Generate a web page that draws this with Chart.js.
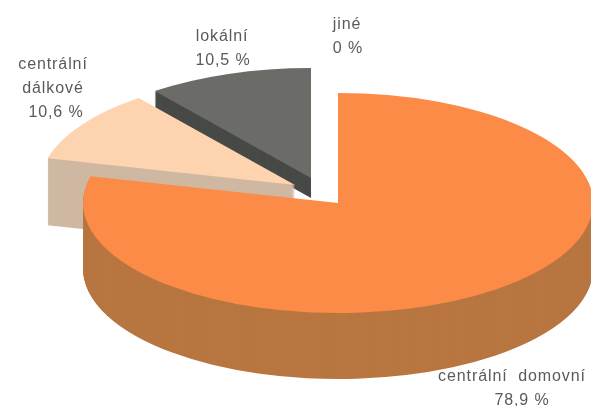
<!DOCTYPE html>
<html>
<head>
<meta charset="utf-8">
<style>
html,body{margin:0;padding:0;background:#fff;overflow:hidden}
#wrap{width:591px;height:406px}
canvas{display:block;filter:blur(0.55px)}
</style>
<script src="https://cdn.jsdelivr.net/npm/chart.js@4"></script>
</head>
<body>
<div id="wrap"><canvas id="c" width="591" height="406"></canvas></div>
<script>
const categories = ["centrální domovní", "centrální dálkové", "lokální", "jiné"];
const shares = [78.9, 10.6, 10.5, 0];
const shareLabels = ["78,9 %", "10,6 %", "10,5 %", "0 %"];
const topColors = ["#fb8b47", "#fdd3b0", "#6b6b68", "#ffffff"];
const sideColors = ["#b87640", "#cfb8a2", "#474a46", "#ffffff"];

// Projection of the tilted pie: where each slice's apex lands, and how thick it is.
const view = [
  {x: 338, y: 203, depth: 66},
  {x: 295, y: 185, depth: 67},
  {x: 311, y: 178, depth: 20},
  {x: 338, y: 203, depth: 0}
];
const radiusX = 255, radiusY = 110;
const drawOrder = [2, 1, 0];

// Text placement: one entry per text line.
const textLines = [
  {t: "centrální", x: 53, y: 69},
  {t: "dálkové", x: 53, y: 93},
  {t: shareLabels[1], x: 56, y: 117},
  {t: categories[2], x: 222, y: 41},
  {t: shareLabels[2], x: 223, y: 65},
  {t: categories[3], x: 347, y: 29},
  {t: shareLabels[3], x: 348, y: 53},
  {t: "centrální  domovní", x: 512, y: 381},
  {t: shareLabels[0], x: 522, y: 405}
];

const tiltedPie = {
  id: "tiltedPie",
  beforeDatasetDraw(chart, args) {
    const ctx = chart.ctx;
    const arcs = args.meta.data;
    const paint = (arc, v, layer, color) => {
      const R = arc.outerRadius;
      const saved = arc.options;
      arc.options = Object.assign({}, saved, {backgroundColor: color});
      ctx.save();
      ctx.translate(v.x, v.y + layer);
      ctx.scale(radiusX / R, radiusY / R);
      ctx.translate(-arc.x, -arc.y);
      arc.draw(ctx);
      ctx.restore();
      arc.options = saved;
    };
    drawOrder.forEach(i => {
      for (let d = view[i].depth; d >= 1; d--) paint(arcs[i], view[i], d, sideColors[i]);
      paint(arcs[i], view[i], 0, topColors[i]);
    });
    return false;
  },
  afterDraw(chart) {
    const ctx = chart.ctx;
    ctx.save();
    ctx.font = "16px 'Liberation Sans', Arial, sans-serif";
    ctx.letterSpacing = "0.9px";
    ctx.fillStyle = "#5a5a5a";
    ctx.textAlign = "center";
    ctx.textBaseline = "alphabetic";
    textLines.forEach(l => ctx.fillText(l.t, l.x, l.y));
    ctx.restore();
  }
};

new Chart(document.getElementById("c"), {
  type: "pie",
  data: {
    labels: categories,
    datasets: [{data: shares, backgroundColor: topColors, borderWidth: 0}]
  },
  options: {
    responsive: false,
    animation: false,
    rotation: 0,
    layout: {padding: 0},
    plugins: {legend: {display: false}, tooltip: {enabled: false}, title: {display: false}}
  },
  plugins: [tiltedPie]
});
</script>
</body>
</html>
